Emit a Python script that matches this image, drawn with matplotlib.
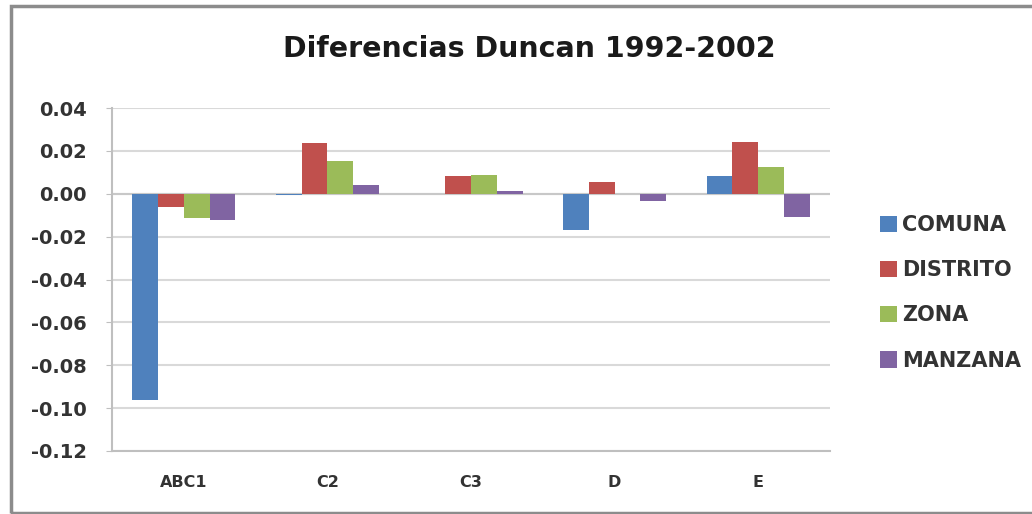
import matplotlib.pyplot as plt
import matplotlib.patches as mpatches
import numpy as np

categories = ['ABC1', 'C2', 'C3', 'D', 'E']
series_names = ['COMUNA', 'DISTRITO', 'ZONA', 'MANZANA']
comuna = [-0.0963, -0.0008, 0.0, -0.0167, 0.0084]
distrito = [-0.0060, 0.0237, 0.0084, 0.0057, 0.0242]
zona = [-0.0112, 0.0153, 0.0088, 0.0, 0.0126]
manzana = [-0.0123, 0.0040, 0.0014, -0.0033, -0.0110]
colors = ['#4F81BD', '#C0504D', '#9BBB59', '#8064A2']

plt.rcParams['font.family'] = ['DejaVu Sans']

fig = plt.figure(figsize=(10.32, 5.14), dpi=100)
ax = fig.add_axes([112 / 1032, 1 - 451 / 514, 718 / 1032, 343 / 514])

x = np.arange(len(categories))
width = 0.18
for i, (vals, name) in enumerate(zip([comuna, distrito, zona, manzana], series_names)):
    ax.bar(x + (i - 1.5) * width, vals, width, color=colors[i], label=name, zorder=3)

ax.set_xlim(-0.5, len(categories) - 0.5)
ax.set_ylim(-0.12, 0.04)
yt = np.arange(-0.12, 0.041, 0.02)
ax.set_yticks(yt)
ax.set_yticklabels(['%.2f' % v for v in yt])
ax.set_xticks(x)
ax.set_xticklabels(categories)
ax.yaxis.grid(True, color='#D9D9D9', linewidth=1.5, zorder=0)
ax.axhline(0, color='#C8C8C8', linewidth=1.5, zorder=2)

for s in ['top', 'right']:
    ax.spines[s].set_visible(False)
for s in ['left', 'bottom']:
    ax.spines[s].set_color('#BFBFBF')
    ax.spines[s].set_linewidth(1.5)
ax.tick_params(axis='y', length=4, color='#BFBFBF', labelsize=14, labelcolor='#333333', pad=14)
ax.tick_params(axis='x', length=0, labelsize=11.5, labelcolor='#333333', pad=17)
for lbl in ax.get_yticklabels() + ax.get_xticklabels():
    lbl.set_fontweight('bold')

fig.text(0.513, 1 - 49 / 514, 'Diferencias Duncan 1992-2002', ha='center', va='center',
         fontsize=20.5, fontweight='bold', color='#1a1a1a')

leg = fig.legend(loc='upper left', bbox_to_anchor=(880 / 1032, 1 - 215 / 514),
                 frameon=False, fontsize=15, handlelength=0.82, handleheight=0.82,
                 handletextpad=0.25, labelspacing=1.21, borderpad=0, borderaxespad=0)
for t in leg.get_texts():
    t.set_color('#333333')
    t.set_fontweight('bold')

fig.patches.append(mpatches.Rectangle((11 / 1032, 1 / 514), 1.05, 1 - 7 / 514,
                                      transform=fig.transFigure, fill=False,
                                      edgecolor='#8C8C8C', linewidth=2.5))

fig.savefig('out.png', dpi=100)
